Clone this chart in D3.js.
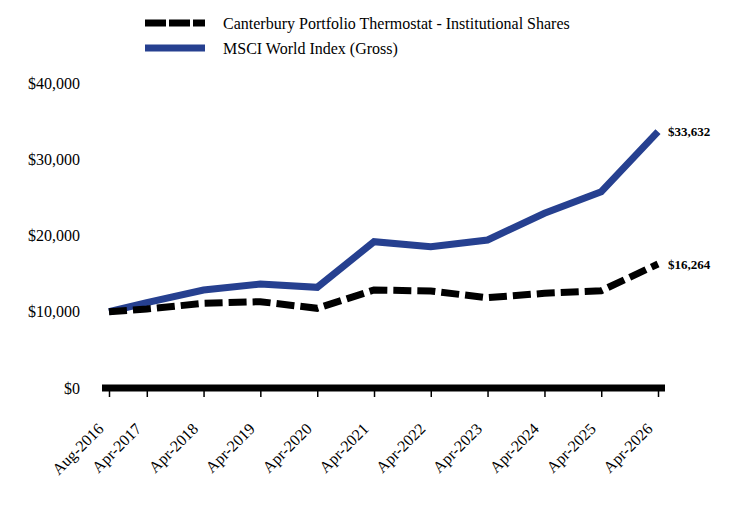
<!DOCTYPE html>
<html><head><meta charset="utf-8">
<script src="https://cdn.jsdelivr.net/npm/d3@7"></script>
<style>body{margin:0;background:#fff}svg{display:block}</style>
</head><body>
<svg id="c" width="744" height="516"></svg>
<script>
const dates = ["2016-08-01","2017-04-01","2018-04-01","2019-04-01","2020-04-01","2021-04-01","2022-04-01","2023-04-01","2024-04-01","2025-04-01","2026-04-01"];
const tickLabels = ["Aug-2016","Apr-2017","Apr-2018","Apr-2019","Apr-2020","Apr-2021","Apr-2022","Apr-2023","Apr-2024","Apr-2025","Apr-2026"];
const fundValues = [10000,10360,11100,11320,10450,12850,12720,11840,12420,12760,16264];
const indexValues = [10000,11190,12850,13640,13200,19190,18530,19410,22910,25750,33632];
const yTicks = [0,10000,20000,30000,40000];
const seriesNames = ["Canterbury Portfolio Thermostat - Institutional Shares","MSCI World Index (Gross)"];

const svg = d3.select("#c");
const font = "'Liberation Serif', 'Times New Roman', serif";
const parse = d3.timeParse("%Y-%m-%d");
const dd = dates.map(parse);

const x = d3.scaleTime().domain([dd[0], dd[dd.length-1]]).range([109, 658]);
const y = d3.scaleLinear().domain([0, 40000]).range([388, 83]);

// y labels
const fmt = v => "$" + d3.format(",")(v);
svg.append("g").selectAll("text").data(yTicks).join("text")
  .attr("x", 80).attr("y", d => y(d)).attr("dy", "0.35em")
  .attr("text-anchor", "end").attr("font-family", font).attr("font-size", 16)
  .attr("fill", "#000").text(fmt);

// x axis
const xAxis = d3.axisBottom(x).tickValues(dd).tickSize(6).tickFormat((d,i) => tickLabels[i]);
const gx = svg.append("g").attr("transform", `translate(0,${y(0)+3})`).call(xAxis);
gx.select(".domain").remove();
gx.selectAll(".tick line").attr("stroke", "#000").attr("stroke-width", 1.5);
gx.selectAll(".tick text")
  .attr("font-family", font).attr("font-size", 16).attr("fill", "#000")
  .attr("text-anchor", "end").attr("transform", "rotate(-45)")
  .attr("x", -31).attr("y", 24).attr("dx", 0).attr("dy", 0);

// thick baseline
svg.append("line").attr("x1", 102).attr("x2", 665).attr("y1", y(0)).attr("y2", y(0))
  .attr("stroke", "#000").attr("stroke-width", 7);

const line = d3.line().x((d,i) => x(dd[i])).y(d => y(d));

svg.append("path").datum(indexValues).attr("d", line)
  .attr("fill", "none").attr("stroke", "#264090").attr("stroke-width", 7)
  .attr("stroke-linejoin", "miter");
svg.append("path").datum(fundValues).attr("d", line)
  .attr("fill", "none").attr("stroke", "#000").attr("stroke-width", 7)
  .attr("stroke-dasharray", "18,6");

// end labels
const last = dd.length - 1;
[indexValues[last], fundValues[last]].forEach(v => {
  svg.append("text").attr("x", 668).attr("y", y(v)).attr("dy", "0.35em")
    .attr("font-family", font).attr("font-size", 13).attr("font-weight", "bold")
    .attr("fill", "#000").text(fmt(v));
});

// legend
const lg = svg.append("g");
lg.append("line").attr("x1", 145).attr("x2", 205).attr("y1", 23).attr("y2", 23)
  .attr("stroke", "#000").attr("stroke-width", 7).attr("stroke-dasharray", "21,3");
lg.append("line").attr("x1", 145).attr("x2", 205).attr("y1", 48).attr("y2", 48)
  .attr("stroke", "#264090").attr("stroke-width", 7);
lg.selectAll("text").data(seriesNames).join("text")
  .attr("x", 223).attr("y", (d,i) => 23 + i*25).attr("dy", "0.35em")
  .attr("font-family", font).attr("font-size", 16).attr("fill", "#000").text(d => d);
</script>
</body></html>
